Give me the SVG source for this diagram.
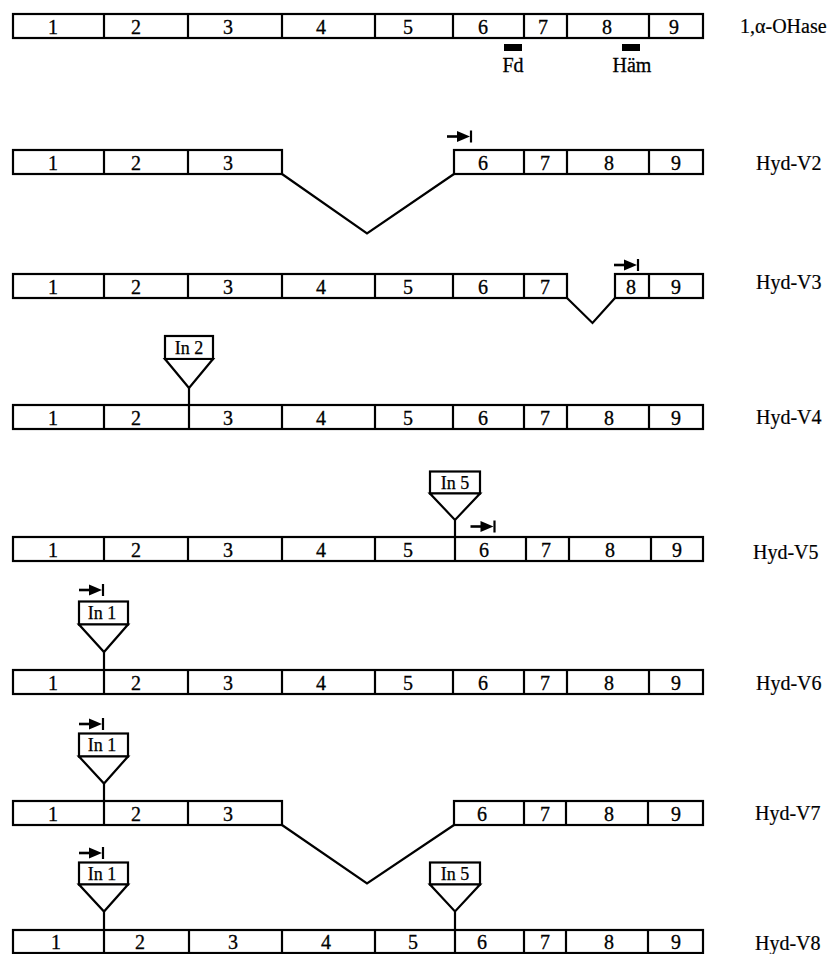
<svg xmlns="http://www.w3.org/2000/svg" xmlns:xlink="http://www.w3.org/1999/xlink" width="832" height="954" viewBox="0 0 832 954">
<style>
.ex{fill:#fff;stroke:#000;stroke-width:2.2}
.dv{stroke:#000;stroke-width:2.2;fill:none}
.ln{stroke:#000;stroke-width:2.2;fill:none;stroke-linejoin:miter}
.n{font-family:"Liberation Serif","Times New Roman",serif;font-size:20px;text-anchor:middle;fill:#000;stroke:#000;stroke-width:0.3}
.lab{font-family:"Liberation Serif","Times New Roman",serif;font-size:20px;fill:#000;stroke:#000;stroke-width:0.2}
.in{font-family:"Liberation Serif","Times New Roman",serif;font-size:18px;text-anchor:middle;fill:#000;stroke:#000;stroke-width:0.25}
.dom{fill:#000}
</style>
<defs>
<g id="arr">
<line x1="0" y1="0" x2="13" y2="0" stroke="#000" stroke-width="2.6"/>
<polygon points="10,-5.5 23,0 10,5.5" fill="#000"/>
<line x1="24" y1="-6" x2="24" y2="6" stroke="#000" stroke-width="2.2"/>
</g>
</defs>

<!-- Row 1: 1,alpha-OHase -->
<g id="row-ohase">
<rect class="ex" x="13" y="14" width="690" height="24"/>
<path class="dv" d="M104,14V38M188,14V38M282,14V38M375,14V38M453,14V38M524,14V38M567,14V38M649,14V38"/>
<text class="n" x="53" y="33.5">1</text><text class="n" x="136" y="33.5">2</text><text class="n" x="228" y="33.5">3</text><text class="n" x="321" y="33.5">4</text><text class="n" x="408" y="33.5">5</text><text class="n" x="483" y="33.5">6</text><text class="n" x="543" y="33.5">7</text><text class="n" x="607" y="33.5">8</text><text class="n" x="674" y="33.5">9</text>
<rect class="dom" x="504" y="44" width="18" height="7"/>
<rect class="dom" x="622" y="44" width="18" height="7"/>
<text class="n" x="513" y="72">Fd</text>
<text class="n" x="632" y="72">Häm</text>
<text class="lab" x="740" y="33">1,α-OHase</text>
</g>

<!-- Row 2: Hyd-V2 -->
<g id="row-v2">
<rect class="ex" x="13" y="150" width="269" height="24"/>
<path class="dv" d="M104,150V174M188,150V174"/>
<rect class="ex" x="454" y="150" width="249" height="24"/>
<path class="dv" d="M524,150V174M567,150V174M649,150V174"/>
<text class="n" x="53" y="169.5">1</text><text class="n" x="136" y="169.5">2</text><text class="n" x="228" y="169.5">3</text>
<text class="n" x="483" y="169.5">6</text><text class="n" x="545" y="169.5">7</text><text class="n" x="609" y="169.5">8</text><text class="n" x="676" y="169.5">9</text>
<use xlink:href="#arr" href="#arr" transform="translate(447,136.5)"/>
<text class="lab" x="756" y="170">Hyd-V2</text>
</g>

<!-- Row 3: Hyd-V3 -->
<g id="row-v3">
<rect class="ex" x="13" y="274" width="554" height="24"/>
<path class="dv" d="M104,274V298M188,274V298M282,274V298M375,274V298M453,274V298M524,274V298"/>
<rect class="ex" x="615" y="274" width="88" height="24"/>
<path class="dv" d="M649,274V298"/>
<text class="n" x="53" y="293.5">1</text><text class="n" x="136" y="293.5">2</text><text class="n" x="228" y="293.5">3</text><text class="n" x="321" y="293.5">4</text><text class="n" x="408" y="293.5">5</text><text class="n" x="483" y="293.5">6</text><text class="n" x="545" y="293.5">7</text><text class="n" x="631" y="293.5">8</text><text class="n" x="676" y="293.5">9</text>
<use xlink:href="#arr" href="#arr" transform="translate(614,265)"/>
<text class="lab" x="756" y="289">Hyd-V3</text>
</g>

<!-- Row 4: Hyd-V4 -->
<g id="row-v4">
<rect class="ex" x="13" y="405" width="690" height="24"/>
<path class="dv" d="M104,405V429M189,405V429M282,405V429M375,405V429M453,405V429M524,405V429M567,405V429M649,405V429"/>
<text class="n" x="53" y="424.5">1</text><text class="n" x="136" y="424.5">2</text><text class="n" x="228" y="424.5">3</text><text class="n" x="321" y="424.5">4</text><text class="n" x="408" y="424.5">5</text><text class="n" x="483" y="424.5">6</text><text class="n" x="545" y="424.5">7</text><text class="n" x="609" y="424.5">8</text><text class="n" x="676" y="424.5">9</text>
<text class="lab" x="756" y="424">Hyd-V4</text>
</g>
<g id="intron-v4-in2">
<rect class="ex" x="165" y="336" width="48" height="23"/>
<polygon class="ex" points="165,359 213,359 189,388"/>
<text class="in" x="189" y="353.5">In 2</text>
</g>

<!-- Row 5: Hyd-V5 -->
<g id="row-v5">
<rect class="ex" x="13" y="537" width="690" height="24"/>
<path class="dv" d="M104,537V561M188,537V561M282,537V561M375,537V561M455,537V561M526,537V561M569,537V561M651,537V561"/>
<text class="n" x="53" y="556.5">1</text><text class="n" x="136" y="556.5">2</text><text class="n" x="228" y="556.5">3</text><text class="n" x="321" y="556.5">4</text><text class="n" x="408" y="556.5">5</text><text class="n" x="484" y="556.5">6</text><text class="n" x="546" y="556.5">7</text><text class="n" x="610" y="556.5">8</text><text class="n" x="677" y="556.5">9</text>
<use xlink:href="#arr" href="#arr" transform="translate(470.5,526.5)"/>
<text class="lab" x="753" y="559">Hyd-V5</text>
</g>
<g id="intron-v5-in5">
<rect class="ex" x="430" y="471.5" width="50" height="22"/>
<polygon class="ex" points="430,493.5 480,493.5 455,520"/>
<text class="in" x="455" y="488.5">In 5</text>
</g>

<!-- Row 6: Hyd-V6 -->
<g id="row-v6">
<rect class="ex" x="13" y="670" width="690" height="24"/>
<path class="dv" d="M104,670V694M188,670V694M282,670V694M375,670V694M453,670V694M524,670V694M567,670V694M649,670V694"/>
<text class="n" x="53" y="689.5">1</text><text class="n" x="136" y="689.5">2</text><text class="n" x="228" y="689.5">3</text><text class="n" x="321" y="689.5">4</text><text class="n" x="408" y="689.5">5</text><text class="n" x="483" y="689.5">6</text><text class="n" x="545" y="689.5">7</text><text class="n" x="609" y="689.5">8</text><text class="n" x="676" y="689.5">9</text>
<text class="lab" x="756" y="690">Hyd-V6</text>
</g>
<g id="intron-v6-in1">
<rect class="ex" x="79" y="601.5" width="49" height="23"/>
<polygon class="ex" points="79,624.5 128,624.5 104,652"/>
<text class="in" x="102" y="619">In 1</text>
<use xlink:href="#arr" href="#arr" transform="translate(79,590)"/>
</g>

<!-- Row 7: Hyd-V7 -->
<g id="row-v7">
<rect class="ex" x="13" y="801" width="269" height="24"/>
<path class="dv" d="M104,801V825M188,801V825"/>
<rect class="ex" x="454" y="801" width="249" height="24"/>
<path class="dv" d="M524,801V825M566,801V825M648,801V825"/>
<text class="n" x="53" y="820.5">1</text><text class="n" x="136" y="820.5">2</text><text class="n" x="228" y="820.5">3</text>
<text class="n" x="482" y="820.5">6</text><text class="n" x="545" y="820.5">7</text><text class="n" x="609" y="820.5">8</text><text class="n" x="676" y="820.5">9</text>
<text class="lab" x="755" y="820">Hyd-V7</text>
</g>
<g id="intron-v7-in1">
<rect class="ex" x="79" y="733.5" width="49" height="23"/>
<polygon class="ex" points="79,756.5 128,756.5 104,783.5"/>
<text class="in" x="102" y="751">In 1</text>
<use xlink:href="#arr" href="#arr" transform="translate(79,724)"/>
</g>

<!-- Row 8: Hyd-V8 -->
<g id="row-v8">
<rect class="ex" x="13" y="930" width="690" height="23"/>
<path class="dv" d="M104,930V953M189,930V953M282,930V953M375,930V953M455,930V953M524,930V953M566,930V953M648,930V953"/>
<text class="n" x="56" y="949">1</text><text class="n" x="140" y="949">2</text><text class="n" x="233" y="949">3</text><text class="n" x="326" y="949">4</text><text class="n" x="413" y="949">5</text><text class="n" x="482" y="949">6</text><text class="n" x="545" y="949">7</text><text class="n" x="609" y="949">8</text><text class="n" x="676" y="949">9</text>
<text class="lab" x="755" y="950">Hyd-V8</text>
</g>
<g id="intron-v8-in1">
<rect class="ex" x="79" y="862.5" width="49" height="22"/>
<polygon class="ex" points="79,884.5 128,884.5 104,911.5"/>
<text class="in" x="102" y="879.5">In 1</text>
<use xlink:href="#arr" href="#arr" transform="translate(79,853)"/>
</g>
<g id="intron-v8-in5">
<rect class="ex" x="430" y="862.5" width="50" height="22"/>
<polygon class="ex" points="430,884.5 480,884.5 455,911.5"/>
<text class="in" x="455" y="879.5">In 5</text>
</g>

<!-- Connectors: splice junctions and intron insertion stems -->
<g id="connectors">
<polyline class="ln" points="282,174 367,233.5 454,174"/>
<polyline class="ln" points="567,298 592.5,323 615,298"/>
<polyline class="ln" points="282,825 367,883.5 454,825"/>
<line class="ln" x1="189" y1="388" x2="189" y2="405"/>
<line class="ln" x1="455" y1="520" x2="455" y2="537"/>
<line class="ln" x1="104" y1="652" x2="104" y2="670"/>
<line class="ln" x1="104" y1="783.5" x2="104" y2="801"/>
<line class="ln" x1="104" y1="911.5" x2="104" y2="930"/>
<line class="ln" x1="455" y1="911.5" x2="455" y2="930"/>
</g>
</svg>
